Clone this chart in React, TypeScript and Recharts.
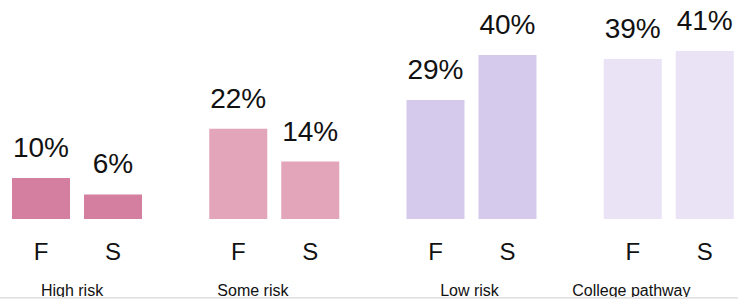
import React from 'react';
import { BarChart, Bar, XAxis, YAxis, Cell, LabelList } from 'recharts';

const categories = ['High risk', 'Some risk', 'Low risk', 'College pathway'];
const fValues = [10, 22, 29, 39];
const sValues = [6, 14, 40, 41];
const seriesLabels = ['F', 'S'];

const groupColors = ['#d47fa0', '#e3a5ba', '#d5caeb', '#e9e3f5'];
const categoryLabelShift = [-4.6, -21, -1.6, -37];
const FONT = '"Liberation Sans", Arial, Helvetica, sans-serif';

const data = categories.map((c, i) => ({ category: c, F: fValues[i], S: sValues[i] }));

const makeValueLabel = () => (props: any) => {
  const { x, y, width, value } = props;
  return (
    <text x={Number(x) + Number(width) / 2} y={Number(y) - 21} textAnchor="middle" fontSize={28} fill="#111" fontFamily={FONT}>
      {`${value}%`}
    </text>
  );
};

const makeSeriesLabel = (label: string) => (props: any) => {
  const { x, y, width, height } = props;
  return (
    <text x={Number(x) + Number(width) / 2} y={Number(y) + Number(height) + 41} textAnchor="middle" fontSize={24} fill="#111" fontFamily={FONT}>
      {label}
    </text>
  );
};

const CategoryTick = (props: any) => {
  const { x, y, payload, index } = props;
  return (
    <text x={Number(x) + (categoryLabelShift[index] || 0)} y={Number(y) + 76.5} textAnchor="middle" fontSize={16} fill="#111" fontFamily={FONT}>
      {payload.value}
    </text>
  );
};

export default function App() {
  return (
    <div style={{ position: 'absolute', left: 0, top: 0, width: 738, height: 299, overflow: 'hidden', background: '#fff' }}>
      <BarChart
        width={738}
        height={299}
        data={data}
        margin={{ top: 14, right: -29, bottom: 0, left: -22 }}
        barSize={58}
        barGap={14}
      >
        <XAxis dataKey="category" axisLine={false} tickLine={false} tickSize={0} tickMargin={0} height={80} tick={<CategoryTick />} interval={0} />
        <YAxis hide domain={[0, 50]} />
        <Bar dataKey="F" isAnimationActive={false}>
          {data.map((d, i) => (
            <Cell key={`f-${i}`} fill={groupColors[i]} />
          ))}
          <LabelList dataKey="F" content={makeValueLabel()} />
          <LabelList dataKey="F" content={makeSeriesLabel(seriesLabels[0])} />
        </Bar>
        <Bar dataKey="S" isAnimationActive={false}>
          {data.map((d, i) => (
            <Cell key={`s-${i}`} fill={groupColors[i]} />
          ))}
          <LabelList dataKey="S" content={makeValueLabel()} />
          <LabelList dataKey="S" content={makeSeriesLabel(seriesLabels[1])} />
        </Bar>
      </BarChart>
      <div style={{ position: 'absolute', left: 0, top: 297, width: 738, height: 2, background: 'linear-gradient(#dcdcdc, #efefef)' }} />
    </div>
  );
}
